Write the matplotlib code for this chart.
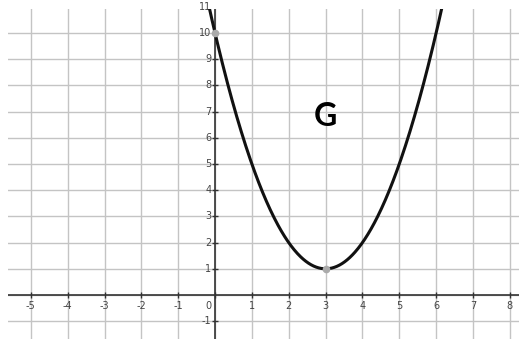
import numpy as np
import matplotlib.pyplot as plt

# parabola y = a (x - h)^2 + k
a, h, k = 1.0, 3.0, 1.0
points_x = [0, 3]
points_y = [10, 1]
x_ticks = [-5, -4, -3, -2, -1, 0, 1, 2, 3, 4, 5, 6, 7, 8]
y_ticks = [-1, 1, 2, 3, 4, 5, 6, 7, 8, 9, 10, 11]
label_text = "G"
label_pos = (3, 6.8)

fig = plt.figure(figsize=(5.19, 3.39), dpi=100)
ax = fig.add_axes([8 / 519, 0, 511 / 519, 330 / 339])
ax.set_xlim(-5.62, 8.25)
ax.set_ylim(-1.68, 10.92)
for s in ax.spines.values():
    s.set_visible(False)
ax.set_xticks([])
ax.set_yticks([])

grid_color = "#c4c4c4"
for xv in range(-5, 9):
    ax.axvline(xv, color=grid_color, lw=1.0, zorder=1)
for yv in range(-1, 12):
    ax.axhline(yv, color=grid_color, lw=1.0, zorder=1)

ax.axhline(0, color="#333333", lw=1.2, zorder=2)
ax.axvline(0, color="#333333", lw=1.2, zorder=2)

# tick marks and labels
ax.plot(x_ticks, [0] * len(x_ticks), ls="none", marker="|", ms=4, color="#333333", zorder=2)
ax.plot([0] * len(y_ticks), y_ticks, ls="none", marker="_", ms=4, color="#333333", zorder=2)
for xv in x_ticks:
    if xv == 0:
        continue
    ax.text(xv, -0.22, str(xv), ha="center", va="top", fontsize=7, color="#444444", zorder=3)
for yv in y_ticks:
    ax.text(-0.1, yv, str(yv), ha="right", va="center", fontsize=7, color="#444444", zorder=3)
ax.text(-0.1, -0.22, "0", ha="right", va="top", fontsize=7, color="#444444", zorder=3)

xs = np.linspace(-0.5, 6.5, 400)
ys = a * (xs - h) ** 2 + k
ax.plot(xs, ys, color="#111111", lw=2.2, zorder=4)
ax.plot(points_x, points_y, ls="none", marker="o", ms=4.5, color="#aaaaaa", zorder=5)

ax.text(label_pos[0], label_pos[1], label_text, ha="center", va="center",
        fontsize=23, fontweight="bold", color="black", family="Lato", zorder=6)

fig.savefig("out.png", dpi=100)
